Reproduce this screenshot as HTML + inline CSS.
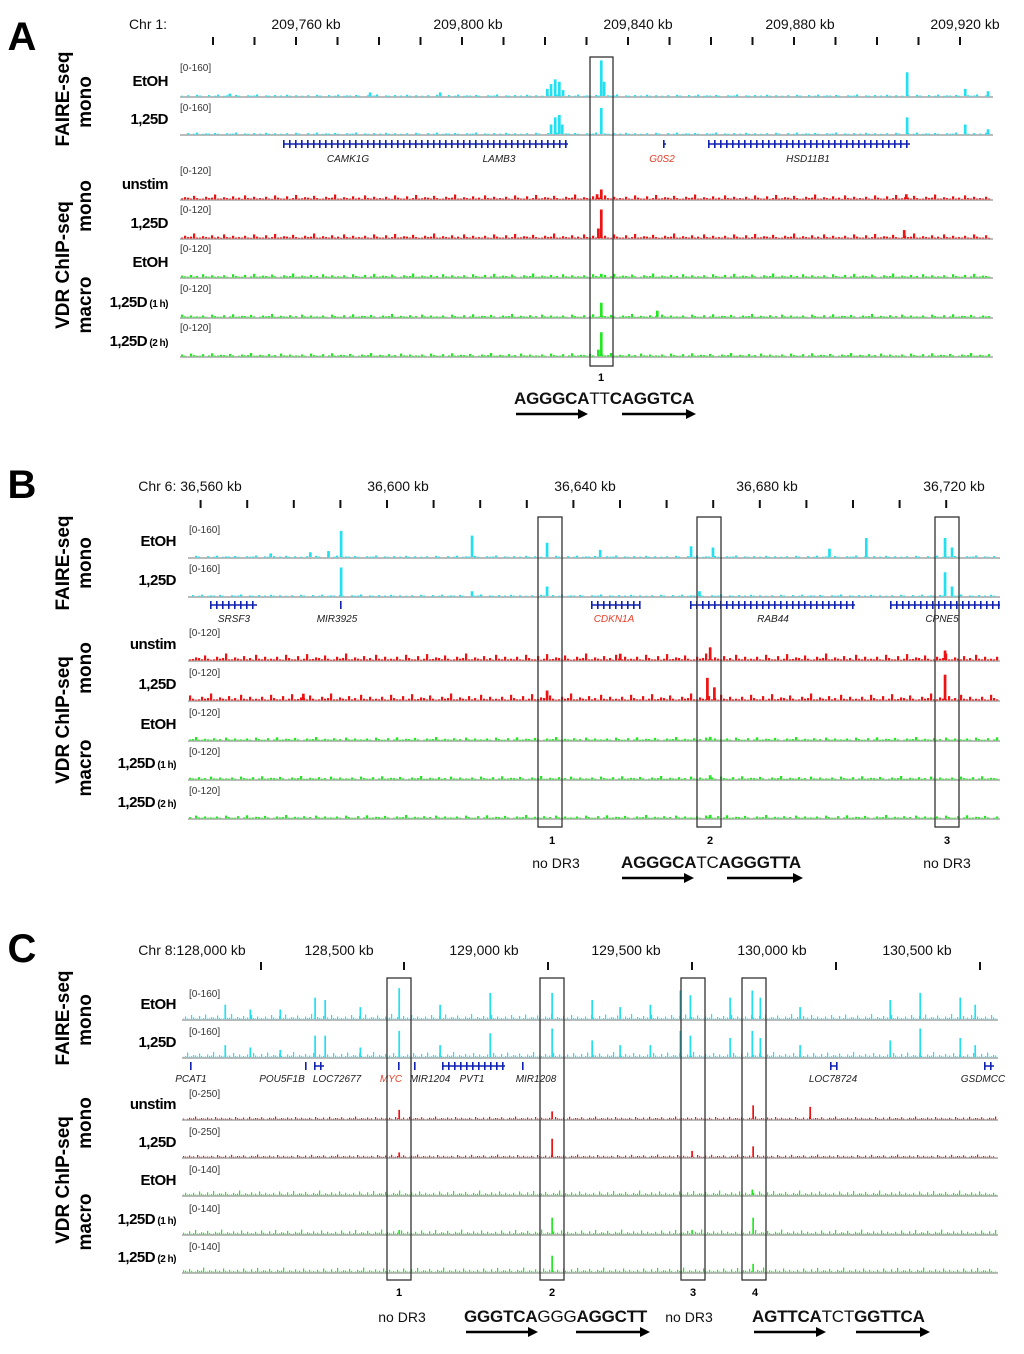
<!DOCTYPE html>
<html><head><meta charset="utf-8"><style>
html,body{margin:0;padding:0;background:#fff;}
svg{display:block;font-family:"Liberation Sans",sans-serif;}
.tl{font-weight:bold;font-size:15px;text-anchor:end;letter-spacing:-0.5px}
.rg{font-size:10px;fill:#333}
.ax{font-size:14px;fill:#111;text-anchor:middle}
.gn{font-size:10px;font-style:italic;fill:#222;text-anchor:middle}
.sq{font-size:17px;font-weight:bold;fill:#111;letter-spacing:-0.2px}
.vt{font-weight:bold;font-size:19px;text-anchor:middle}
.num{font-size:11px;font-weight:bold;text-anchor:middle}
</style></head><body>
<svg id="fig" width="1024" height="1354" viewBox="0 0 1024 1354"></svg>
<script>
// ---- data ----
const noisePattern=[0.2,0.1,0.5,0.1,0.05,0.8,0.3,0.1,0.1,0.6,0.05,0.2,0.9,0.1,0.15,0.4,0.3,0.1,0.7,0.2,0.05,0.1,0.5,0.2,0.3,1,0.1,0.1,0.4,0.2,0.1,0.6,0.1,0.3,0.05,0.8,0.2,0.1,0.5,0.1];
// Panel A (kb)
const aFaireEtoh=[[209744,10],[209777.8,15],[209794.7,15],[209820.5,30],[209821.4,50],[209822.4,70],[209823.4,60],[209824.3,25],[209833.5,150],[209834.2,60],[209907.2,100],[209921.2,30],[209926.7,20]];
const aFaire125=[[209821.4,40],[209822.4,70],[209823.4,80],[209824.1,40],[209833.5,110],[209907.2,70],[209921.2,40],[209926.7,20]];
const aUnstim=[[209832.5,15],[209833.5,30],[209907,15]];
const aRed125=[[209832.8,30],[209833.5,90],[209906.5,25]];
const aEtoh=[[209833.5,10]];
const aH1=[[209833.5,45],[209847,20]];
const aH2=[[209832.8,20],[209833.5,75]];
// Panel B
const bFaireEtoh=[[36575,15],[36583.5,20],[36587.4,25],[36590.1,110],[36618.2,90],[36634.3,60],[36645.7,30],[36665.2,45],[36669.9,40],[36694.9,35],[36702.8,80],[36719.7,80],[36721.2,40]];
const bFaire125=[[36590.1,120],[36618.2,20],[36634.3,40],[36667,20],[36719.7,100],[36721.2,40]];
const bUnstim=[[36669.3,40],[36719.7,30],[36650,20]];
const bRed125=[[36582,20],[36634.3,30],[36668.7,70],[36670.2,40],[36719.7,80]];
const bEtoh=[[36669.3,10]];
const bH1=[[36669.3,12]];
const bH2=[[36669.3,10]];
// Panel C
const cFaireEtoh=[[127875,60],[127962,40],[128066,40],[128187,90],[128222,80],[128344,50],[128479,130],[128621,60],[128795,110],[129010,110],[129149,80],[129246,50],[129351,60],[129455,120],[129490,100],[129628,90],[129705,120],[129733,90],[129871,50],[130184,80],[130288,110],[130427,90],[130479,60]];
const cFaire125=[[127875,50],[127962,40],[128066,30],[128187,90],[128222,90],[128344,40],[128479,110],[128621,50],[128795,100],[129010,120],[129149,70],[129246,50],[129351,50],[129455,110],[129490,90],[129628,80],[129705,110],[129733,80],[129871,50],[130184,70],[130288,120],[130427,80],[130479,50]];
const cUnstim=[[128479,60],[129010,50],[129708,90],[129906,80]];
const cRed125=[[128479,30],[129010,120],[129496,40],[129708,70]];
const cEtoh=[[129705,20]];
const cH1=[[128479,15],[129010,60],[129496,15],[129708,60]];
const cH2=[[129010,60],[129708,30]];
// axis ticks / labels
const aTicks=[209740,209750,209760,209770,209780,209790,209800,209810,209820,209830,209840,209850,209860,209870,209880,209890,209900,209910,209920];
const aLabels=["209,760 kb","209,800 kb","209,840 kb","209,880 kb","209,920 kb"];
const bTicks=[36560,36570,36580,36590,36600,36610,36620,36630,36640,36650,36660,36670,36680,36690,36700,36710,36720];
const bLabels=["36,600 kb","36,640 kb","36,680 kb","36,720 kb"];
const cTicks=[128000,128500,129000,129500,130000,130500];
const cLabels=["128,500 kb","129,000 kb","129,500 kb","130,000 kb","130,500 kb"];

const NS="http://www.w3.org/2000/svg";
const svg=document.getElementById('fig');
function mk(tag,attrs,parent){const e=document.createElementNS(NS,tag);for(const k in attrs)e.setAttribute(k,attrs[k]);(parent||svg).appendChild(e);return e;}
function txt(x,y,s,cls,extra){const t=mk('text',Object.assign({x:x,y:y,class:cls},extra||{}));t.textContent=s;return t;}

const panels={
 A:{x0:180,x1:993,sx:k=>296+(k-209760)*4.15,bw:2.2,step:3},
 B:{x0:188,x1:1000,sx:k=>387+(k-36600)*4.66,bw:2.2,step:3},
 C:{x0:182,x1:998,sx:k=>261+(k-128000)*0.288,bw:1.2,step:2}
};
function track(P,base,color,maxV,peaks,noiseAmp,off,name){
 const g=mk('g',{});
 
 
 mk('rect',{x:P.x0,y:base,width:P.x1-P.x0,height:2,fill:'#bbb'},g);
 let i=off;
 for(let x=P.x0+1;x<P.x1-2;x+=P.step){const v=noisePattern[i%noisePattern.length]*noiseAmp;i++;
  if(v>0.2)mk('rect',{x:x,y:base-v,width:P.bw,height:v+0.5,fill:color},g);}
 peaks.forEach(p=>{const h=p[1]/maxV*38;mk('rect',{x:P.sx(p[0])-P.bw/2,y:base-h,width:P.bw+0.5,height:h,fill:color},g);});
}
function range(x,y,s){const t=txt(x,y,s,'rg');}
function label(x,y,main,sub){const t=txt(x,y,main,'tl');if(sub){const ts=mk('tspan',{'font-size':'10px'},t);ts.textContent=' '+sub;}
 }
function vlab(x,y,s,size){const t=txt(x,y,s,'vt',{transform:`rotate(-90 ${x} ${y})`,'font-size':size});}
function box(x,y,w,h){const r=mk('rect',{x:x,y:y,width:w,height:h,fill:'none',stroke:'#333','stroke-width':1.3});}
function arrow(x1,x2,y){mk('line',{x1:x1,y1:y,x2:x2-8,y2:y,stroke:'#000','stroke-width':2.5});mk('polygon',{points:`${x2},${y} ${x2-10},${y-5} ${x2-10},${y+5}`,fill:'#000'});}
function gene(x1,x2,y,name,lx,ly,red){mk('line',{x1:x1,y1:y,x2:x2,y2:y,stroke:'#1020b0','stroke-width':1.5});
 for(let x=x1;x<=x2;x+=6)mk('rect',{x:x,y:y-4,width:1.6,height:8,fill:'#1020b0'});
 const t=txt(lx,ly,name,'gn');t.style.fill=red?'#e8402a':'#222';
 }
function ticks(P,arr,y){arr.forEach(k=>mk('rect',{x:P.sx(k)-1,y:y,width:2,height:8,fill:'#111'}));}

// Panel letters
[['A',22,50],['B',22,498],['C',22,962]].forEach(a=>{const t=txt(a[1],a[2],a[0],'',{'font-size':'40px','font-weight':'bold','text-anchor':'middle'});});

// ===== Panel A =====
let P=panels.A;
txt(148,29,'Chr 1:','ax');
[306,468,638,800,965].forEach((x,i)=>txt(x,29,aLabels[i],'ax'));
ticks(P,aTicks,37);
vlab(69,99,'FAIRE-seq','20px');vlab(91,102,'mono','18px');
vlab(69,265,'VDR ChIP-seq','20px');vlab(91,206,'mono','18px');vlab(91,305,'macro','18px');
const aRows=[[96,'#22e0f0',160,aFaireEtoh,1.5,'EtOH',null,'0-160'],[134,'#22e0f0',160,aFaire125,1.5,'1,25D',null,'0-160'],
 [199,'#ee1111',120,aUnstim,4.5,'unstim',null,'0-120'],[238,'#ee1111',120,aRed125,4.5,'1,25D',null,'0-120'],
 [277,'#22e822',120,aEtoh,3.5,'EtOH',null,'0-120'],[317,'#22e822',120,aH1,3,'1,25D','(1 h)','0-120'],[356,'#22e822',120,aH2,3,'1,25D','(2 h)','0-120']];
aRows.forEach((r,i)=>{track(P,r[0],r[1],r[2],r[3],r[4],i*7,'track-a-'+i);range(180,r[0]-23-(i>1?2:0)-(i==0?2:0),'['+r[7]+']');label(168,r[0]-10,r[5],r[6]);});
gene(283,568,144,'CAMK1G',348,162);txt(499,162,'LAMB3','gn');
gene(663,666,144,'G0S2',662,162,true);
gene(708,910,144,'HSD11B1',808,162);
box(590,57,23,309);
txt(601,381,'1','num');
let s=txt(514,404,'','sq');s.innerHTML='AGGGCA<tspan font-weight="normal">TT</tspan>CAGGTCA';
arrow(516,588,414);arrow(622,696,414);

// ===== Panel B =====
P=panels.B;
txt(190,491,'Chr 6: 36,560 kb','ax');
[398,585,767,954].forEach((x,i)=>txt(x,491,bLabels[i],'ax'));
ticks(P,bTicks,500);
vlab(69,563,'FAIRE-seq','20px');vlab(91,563,'mono','18px');
vlab(69,720,'VDR ChIP-seq','20px');vlab(91,668,'mono','18px');vlab(91,768,'macro','18px');
const bRows=[[557,'#22e0f0',160,bFaireEtoh,1.5,'EtOH',null,'0-160'],[596,'#22e0f0',160,bFaire125,1.5,'1,25D',null,'0-160'],
 [660,'#ee1111',120,bUnstim,6.5,'unstim',null,'0-120'],[700,'#ee1111',120,bRed125,6.5,'1,25D',null,'0-120'],
 [740,'#22e822',120,bEtoh,3,'EtOH',null,'0-120'],[779,'#22e822',120,bH1,3,'1,25D','(1 h)','0-120'],[818,'#22e822',120,bH2,3,'1,25D','(2 h)','0-120']];
bRows.forEach((r,i)=>{track(P,r[0],r[1],r[2],r[3],r[4],i*5+3,'track-b-'+i);range(189,r[0]-24,'['+r[7]+']');label(176,r[0]-11,r[5],r[6]);});
gene(210,257,605,'SRSF3',234,622);
gene(340,341,605,'MIR3925',337,622);
gene(591,640,605,'CDKN1A',614,622,true);
gene(690,855,605,'RAB44',773,622);
gene(890,1000,605,'CPNE5',942,622);
box(538,517,24,310);box(697,517,24,310);box(935,517,24,310);
txt(552,844,'1','num');txt(710,844,'2','num');txt(947,844,'3','num');
txt(556,868,'no DR3','ax',{'font-size':'17px'});txt(947,868,'no DR3','ax',{'font-size':'17px'});
s=txt(621,868,'','sq');s.innerHTML='AGGGCA<tspan font-weight="normal">TC</tspan>AGGGTTA';
arrow(622,694,878);arrow(727,803,878);

// ===== Panel C =====
P=panels.C;
txt(192,955,'Chr 8:128,000 kb','ax');
[339,484,626,772,917].forEach((x,i)=>txt(x,955,cLabels[i],'ax'));
[261,404,548,692,836,980].forEach(x=>mk('rect',{x:x-1,y:962,width:2,height:8,fill:'#111'}));
vlab(69,1018,'FAIRE-seq','20px');vlab(91,1020,'mono','18px');
vlab(69,1180,'VDR ChIP-seq','20px');vlab(91,1123,'mono','18px');vlab(91,1222,'macro','18px');
const cRows=[[1019,'#22e0f0',160,cFaireEtoh,5,'EtOH',null,'0-160'],[1057,'#22e0f0',160,cFaire125,5,'1,25D',null,'0-160'],
 [1119,'#ee1111',250,cUnstim,2.5,'unstim',null,'0-250'],[1157,'#ee1111',250,cRed125,2.5,'1,25D',null,'0-250'],
 [1195,'#22e822',140,cEtoh,4.5,'EtOH',null,'0-140'],[1234,'#22e822',140,cH1,4.5,'1,25D','(1 h)','0-140'],[1272,'#22e822',140,cH2,4.5,'1,25D','(2 h)','0-140']];
cRows.forEach((r,i)=>{track(P,r[0],r[1],r[2],r[3],r[4],i*9+1,'track-c-'+i);range(189,r[0]-22,'['+r[7]+']');label(176,r[0]-10,r[5],r[6]);});
gene(190,191,1066,'PCAT1',191,1082);
gene(305,306,1066,'POU5F1B',282,1082);
gene(314,324,1066,'LOC72677',337,1082);
gene(398,399,1066,'MYC',391,1082,true);
gene(414,415,1066,'MIR1204',430,1082);
gene(442,505,1066,'PVT1',472,1082);
gene(522,523,1066,'MIR1208',536,1082);
gene(830,836,1066,'LOC78724',833,1082);
gene(984,994,1066,'GSDMCC',983,1082);
box(387,978,24,302);box(540,978,24,302);box(681,978,24,302);box(742,978,24,302);
txt(399,1296,'1','num');txt(552,1296,'2','num');txt(693,1296,'3','num');txt(755,1296,'4','num');
txt(402,1322,'no DR3','ax',{'font-size':'17px'});txt(689,1322,'no DR3','ax',{'font-size':'17px'});
s=txt(464,1322,'','sq');s.innerHTML='GGGTCA<tspan font-weight="normal">GGG</tspan>AGGCTT';
s=txt(752,1322,'','sq');s.innerHTML='AGTTCA<tspan font-weight="normal">TCT</tspan>GGTTCA';
arrow(466,538,1332);arrow(576,650,1332);arrow(754,826,1332);arrow(856,930,1332);
</script>
</body></html>
